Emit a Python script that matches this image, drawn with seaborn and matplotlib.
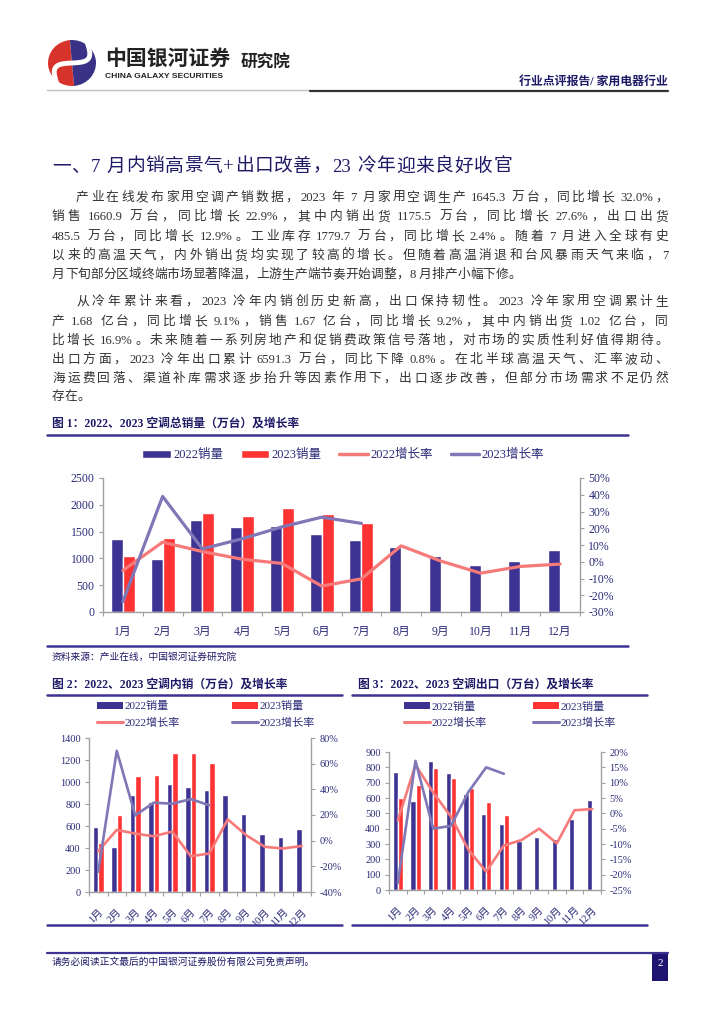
import re
import numpy as np
import pandas as pd
import matplotlib
matplotlib.use("Agg")
import matplotlib.pyplot as plt
import seaborn as sns
from matplotlib.lines import Line2D
from matplotlib.patches import Rectangle, Wedge, Patch
from matplotlib.ticker import FuncFormatter

# ---- Data ----
months = ["1月", "2月", "3月", "4月", "5月", "6月", "7月", "8月", "9月", "10月", "11月", "12月"]

total_2022 = [1360, 990, 1710, 1580, 1600, 1450, 1350, 1215, 1050, 868, 960, 1155]
total_2023 = [1042, 1385, 1848, 1793, 1935, 1824, 1661]
total_rate_2022 = [-5.2, 11.7, 6.1, 1.5, -1.0, -14.5, -10.2, 9.5, 0.4, -6.8, -2.8, -1.4]
total_rate_2023 = [-23.8, 39.0, 7.7, 13.7, 20.8, 26.6, 22.9]

domestic_2022 = [591, 413, 881, 821, 981, 954, 926, 884, 712, 531, 504, 573]
domestic_2023 = [450, 703, 1053, 1065, 1267, 1261, 1176]
domestic_rate_2022 = [-8.2, 8.4, 5.5, 3.4, 7.1, -12.1, -10.0, 16.6, 4.2, -4.8, -6.1, -4.1]
domestic_rate_2023 = [-24.2, 70.0, 19.7, 29.6, 28.8, 32.4, 27.6]

export_2022 = [772, 583, 839, 761, 625, 497, 429, 321, 343, 334, 464, 586]
export_2023 = [599, 683, 794, 731, 662, 573, 486]
export_rate_2022 = [-2.3, 15.8, 6.8, -1.0, -11.9, -19.0, -10.5, -8.7, -5.0, -9.8, 1.0, 1.4]
export_rate_2023 = [-22.7, 17.1, -5.0, -4.1, 7.0, 15.0, 12.9]

series_labels = ["2022销量", "2023销量", "2022增长率", "2023增长率"]

heading = "一、7 月内销高景气+出口改善，23 冷年迎来良好收官"
para1 = [
    "产业在线发布家用空调产销数据，2023 年 7 月家用空调生产 1645.3 万台，同比增长 32.0%，",
    "销售 1660.9 万台，同比增长 22.9%，其中内销出货 1175.5 万台，同比增长 27.6%，出口出货",
    "485.5 万台，同比增长 12.9%。工业库存 1779.7 万台，同比增长 2.4%。随着 7 月进入全球有史",
    "以来的高温天气，内外销出货均实现了较高的增长。但随着高温消退和台风暴雨天气来临，7",
    "月下旬部分区域终端市场显著降温，上游生产端节奏开始调整，8 月排产小幅下修。",
]
para2 = [
    "从冷年累计来看，2023 冷年内销创历史新高，出口保持韧性。2023 冷年家用空调累计生",
    "产 1.68 亿台，同比增长 9.1%，销售 1.67 亿台，同比增长 9.2%，其中内销出货 1.02 亿台，同",
    "比增长 16.9%。未来随着一系列房地产和促销费政策信号落地，对市场的实质性利好值得期待。",
    "出口方面，2023 冷年出口累计 6591.3 万台，同比下降 0.8%。在北半球高温天气、汇率波动、",
    "海运费回落、渠道补库需求逐步抬升等因素作用下，出口逐步改善，但部分市场需求不足仍然",
    "存在。",
]

# ---- Styles ----
NAVY = "#3D3393"
RED = "#FF3333"
PINK = "#F77A7A"
LAVENDER = "#7F77B6"
INK = "#1F1A66"
TICK = "#2A2A78"
SPINE = "#A0A0A0"

sns.set_theme(style="white")
plt.rcParams["font.family"] = ["Liberation Serif", "Noto Sans CJK SC", "DejaVu Sans"]

W, H = 724, 1024
fig = plt.figure(figsize=(W / 100, H / 100), dpi=100)
renderer = fig.canvas.get_renderer()


def fx(x):
    return x / W


def fy(y):
    return 1 - y / H


def hline(x0, x1, y, color, lw):
    fig.add_artist(Line2D([fx(x0), fx(x1)], [fy(y), fy(y)], color=color, lw=lw,
                          transform=fig.transFigure))


def justify(text, x0, x1, y, size, color, full=True):
    """Place a line of text token by token so it fills x0..x1."""
    parts = re.findall(r"( ?)([0-9A-Za-z.%]+|\S)", text)
    widths = []
    for _, tok in parts:
        t = fig.text(0, 0, tok, fontsize=size)
        widths.append(t.get_window_extent(renderer).width)
        t.remove()
    sp = size * 100 / 72 * 0.28
    nsp = sum(1 for s, _ in parts if s)
    total = sum(widths) + nsp * sp
    extra = (x1 - x0 - total) / (len(parts) - 1) if full and len(parts) > 1 else 0
    x = x0
    for (s, tok), w in zip(parts, widths):
        if s:
            x += sp
        fig.text(fx(x), fy(y), tok, fontsize=size, color=color, va="center", ha="left")
        x += w + extra


def pct(v, _):
    return f"{v:.0f}%".replace("\u2212", "-")


def combo_chart(box, bars22, bars23, rate22, rate23, ymax, ystep, rlim, rstep,
                lab_size, lw, rotate):
    left, right, top, bottom = box
    ax = fig.add_axes([fx(left), fy(bottom), (right - left) / W, (bottom - top) / H])
    df = pd.DataFrame({
        "month": months * 2,
        "value": bars22 + bars23 + [np.nan] * (len(months) - len(bars23)),
        "year": [series_labels[0]] * len(months) + [series_labels[1]] * len(months),
    })
    sns.barplot(data=df, x="month", y="value", hue="year", palette=[NAVY, RED],
                width=0.6, errorbar=None, legend=False, saturation=1, ax=ax)
    ax.set_ylim(0, ymax)
    ax.set_yticks(np.arange(0, ymax + 1, ystep))
    ax.set_xlabel("")
    ax.set_ylabel("")
    ax.set_xticks(np.arange(-0.5, len(months), 1), minor=True)
    ax.tick_params(axis="x", which="minor", bottom=True, length=3, width=0.8, color=SPINE)
    if rotate:
        ax.tick_params(axis="x", which="major", bottom=False, labelsize=lab_size,
                       labelcolor=TICK, pad=5)
        plt.setp(ax.get_xticklabels(), rotation=45, ha="right", rotation_mode="anchor")
    else:
        ax.tick_params(axis="x", which="major", bottom=False, labelsize=lab_size,
                       labelcolor=TICK, pad=4)

    ax2 = ax.twinx()
    sns.lineplot(x=np.arange(len(rate22)), y=rate22, color=PINK, lw=lw, ax=ax2)
    sns.lineplot(x=np.arange(len(rate23)), y=rate23, color=LAVENDER, lw=lw, ax=ax2)
    ax2.set_ylim(*rlim)
    ax2.set_yticks(np.arange(rlim[0], rlim[1] + 0.1, rstep))
    ax2.yaxis.set_major_formatter(FuncFormatter(pct))
    ax2.set_ylabel("")
    ax.set_xlim(-0.5, len(months) - 0.5)

    for a in (ax, ax2):
        a.spines["top"].set_visible(False)
        for s in ("left", "right", "bottom"):
            a.spines[s].set_color(SPINE)
            a.spines[s].set_linewidth(1.0)
    ax.spines["right"].set_visible(False)
    ax2.spines["left"].set_visible(False)
    ax2.spines["bottom"].set_visible(False)
    ax.tick_params(axis="y", left=True, length=3, width=0.8, color=SPINE,
                   labelsize=lab_size, labelcolor=TICK, pad=3)
    ax2.tick_params(axis="y", right=True, length=3, width=0.8, color=SPINE,
                    labelsize=lab_size, labelcolor=TICK, pad=3)
    return ax


def legend_column(x, y, items, size):
    handles, labels = [], []
    for kind, color, lw, label in items:
        if kind == "bar":
            handles.append(Patch(facecolor=color, edgecolor="none"))
        else:
            handles.append(Line2D([], [], color=color, lw=lw))
        labels.append(label)
    fig.legend(handles=handles, labels=labels,
               loc="center left", bbox_to_anchor=(fx(x), fy(y)), frameon=False,
               fontsize=size, handlelength=2.3, handleheight=0.6, handletextpad=0.2,
               borderpad=0, borderaxespad=0, labelspacing=0.55, labelcolor=TICK)


# ---- Page header ----
lax = fig.add_axes([fx(48), fy(86), 48 / W, 46 / H])
lax.set_xlim(-1, 1)
lax.set_ylim(-1, 1)
lax.axis("off")
lax.add_patch(Wedge((0, 0), 1, 95, 275, fc="#D8332B", ec="none"))
lax.add_patch(Wedge((0, 0), 1, -85, 95, fc="#3A3286", ec="none"))
t = np.linspace(-1.1, 1.1, 60)
xs, ys = 0.45 * np.sin(np.pi * t / 1.1), t
ang = np.deg2rad(-35)
lax.plot(xs * np.cos(ang) - ys * np.sin(ang), xs * np.sin(ang) + ys * np.cos(ang),
         color="white", lw=3.5, solid_capstyle="round")

fig.text(fx(105), fy(58), "中国银河证券", fontsize=15, weight="bold", color="#222222",
         va="center", family=["Noto Sans CJK SC"])
fig.text(fx(105), fy(77), "CHINA GALAXY SECURITIES", fontsize=6.1, weight="bold",
         color="#222222", va="center", family=["Liberation Sans"])
fig.text(fx(241), fy(63), "研究院", fontsize=12, weight="bold", color="#222222",
         va="center", family=["Noto Sans CJK SC"])
fig.text(fx(668), fy(82), "行业点评报告/ 家用电器行业", fontsize=8.6, weight="bold",
         color=INK, va="center", ha="right")
hline(47, 310, 90, "#C0C0C0", 1.0)
hline(310, 668, 90.5, "#333333", 1.6)

# ---- Heading and body text ----
justify(heading, 52, 512, 167, 13.5, INK)
ys1 = [198, 217, 237, 256, 275]
for i, (line, y) in enumerate(zip(para1, ys1)):
    justify(line, 76 if i == 0 else 52, 668, y, 9.2, "#333333", full=i < len(para1) - 1)
ys2 = [302, 322, 341, 360, 379, 397]
for i, (line, y) in enumerate(zip(para2, ys2)):
    justify(line, 76 if i == 0 else 52, 668, y, 9.2, "#333333", full=i < len(para2) - 1)

# ---- Figure 1 ----
fig.text(fx(52), fy(424), "图 1：2022、2023 空调总销量（万台）及增长率", fontsize=8.5,
         weight="bold", color=INK, va="center")
hline(47, 628, 434.5, NAVY, 1.8)
combo_chart((103, 580, 478, 612), total_2022, total_2023, total_rate_2022, total_rate_2023,
            2500, 500, (-30, 50), 10, 8.5, 2.3, False)
fig.legend(handles=[Patch(facecolor=NAVY), Patch(facecolor=RED),
                    Line2D([], [], color=PINK, lw=2.5), Line2D([], [], color=LAVENDER, lw=2.5)],
           labels=series_labels, loc="center", bbox_to_anchor=(fx(343), fy(455)), ncol=4,
           frameon=False, fontsize=9, handlelength=2.3, handleheight=0.6, handletextpad=0.2,
           columnspacing=1.4, borderpad=0, labelcolor=TICK)
hline(47, 628, 646, NAVY, 1.8)
fig.text(fx(52), fy(657), "资料来源：产业在线，中国银河证券研究院", fontsize=7,
         color=INK, va="center", style="italic")

# ---- Figure 2 ----
fig.text(fx(52), fy(685), "图 2：2022、2023 空调内销（万台）及增长率", fontsize=8.5,
         weight="bold", color=INK, va="center")
hline(47, 342, 695, NAVY, 1.8)
combo_chart((89, 311, 738, 892), domestic_2022, domestic_2023, domestic_rate_2022,
            domestic_rate_2023, 1400, 200, (-40, 80), 20, 7.5, 1.9, True)
legend_column(97, 714.5, [("bar", NAVY, 0, series_labels[0]),
                          ("line", PINK, 2.2, series_labels[2])], 8)
legend_column(232, 714.5, [("bar", RED, 0, series_labels[1]),
                           ("line", LAVENDER, 2.2, series_labels[3])], 8)
hline(47, 342, 925, NAVY, 1.8)

# ---- Figure 3 ----
fig.text(fx(358), fy(685), "图 3：2022、2023 空调出口（万台）及增长率", fontsize=8.5,
         weight="bold", color=INK, va="center")
hline(352, 647, 695, NAVY, 1.8)
combo_chart((389, 601, 752, 890), export_2022, export_2023, export_rate_2022,
            export_rate_2023, 900, 100, (-25, 20), 5, 7.5, 1.9, True)
legend_column(404, 715, [("bar", NAVY, 0, series_labels[0]),
                         ("line", PINK, 2.2, series_labels[2])], 8)
legend_column(533, 715, [("bar", RED, 0, series_labels[1]),
                         ("line", LAVENDER, 2.2, series_labels[3])], 8)
hline(352, 647, 925, NAVY, 1.8)

# ---- Footer ----
hline(47, 668, 953, NAVY, 1.6)
fig.text(fx(52), fy(962), "请务必阅读正文最后的中国银河证券股份有限公司免责声明。", fontsize=7,
         color=INK, va="center")
fig.add_artist(Rectangle((fx(652), fy(981)), 16 / W, 28 / H, transform=fig.transFigure,
                         facecolor="#1E1470", edgecolor="none"))
fig.text(fx(660), fy(964), "2", fontsize=8, color="white", ha="center", va="center")

fig.savefig("out.png", dpi=100)
